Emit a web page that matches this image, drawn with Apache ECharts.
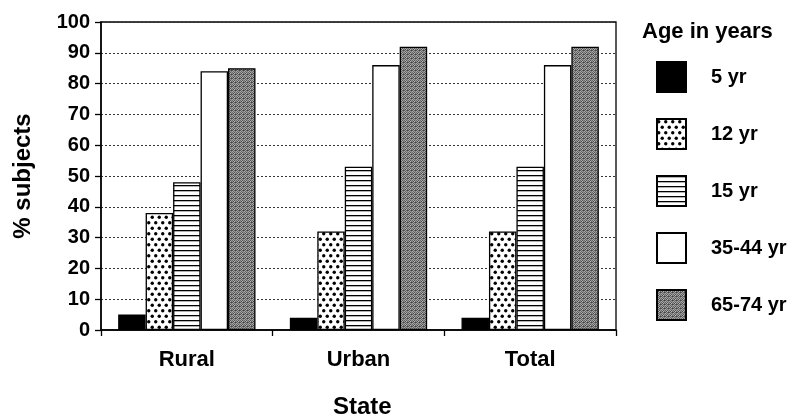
<!DOCTYPE html>
<html><head><meta charset="utf-8">
<script src="https://cdn.jsdelivr.net/npm/echarts@6/dist/echarts.min.js"></script>
<style>html,body{margin:0;padding:0;background:#fff}#c{width:794px;height:419px}</style>
</head><body><div id="c"></div>
<script>
const categories = ['Rural', 'Urban', 'Total'];
const seriesNames = ['5 yr', '12 yr', '15 yr', '35-44 yr', '65-74 yr'];
const age5 = [5, 4, 4];
const age12 = [38, 32, 32];
const age15 = [48, 53, 53];
const age3544 = [84, 86, 86];
const age6574 = [85, 92, 92];
const yTicks = [0, 10, 20, 30, 40, 50, 60, 70, 80, 90, 100];

function tile(w, h, draw) {
  const c = document.createElement('canvas');
  c.width = w; c.height = h;
  const g = c.getContext('2d');
  draw(g);
  return { image: c, repeat: 'repeat' };
}
const dots = tile(7, 11, g => {
  g.fillStyle = '#fff'; g.fillRect(0, 0, 7, 11);
  g.fillStyle = '#000';
  g.beginPath(); g.arc(1.75, 2.75, 1.7, 0, Math.PI * 2); g.fill();
  g.beginPath(); g.arc(5.25, 8.25, 1.7, 0, Math.PI * 2); g.fill();
});
const stripes = tile(4, 5, g => {
  g.fillStyle = '#fff'; g.fillRect(0, 0, 4, 5);
  g.fillStyle = '#000'; g.fillRect(0, 0, 4, 1.3);
});
const dark = tile(4, 4, g => {
  const px = ['#666','#aaa','#555','#999','#999','#444','#bbb','#666','#555','#a0a0a0','#666','#444','#aaa','#666','#999','#777'];
  for (let i = 0; i < 16; i++) { g.fillStyle = px[i]; g.fillRect(i % 4, Math.floor(i / 4), 1, 1); }
});
const fills = ['#000', dots, stripes, '#fff', dark];
const dataSets = [age5, age12, age15, age3544, age6574];

const font = '"Liberation Sans", Arial, sans-serif';
const chart = echarts.init(document.getElementById('c'), null, { renderer: 'canvas' });
chart.setOption({
  animation: false,
  backgroundColor: '#fff',
  grid: { left: 101, right: 178, top: 22, bottom: 89, show: true, borderColor: '#000', borderWidth: 1.3 },
  xAxis: {
    type: 'category', data: categories,
    axisLine: { lineStyle: { color: '#000', width: 1.5 } },
    axisTick: { show: true, length: 6, lineStyle: { color: '#000', width: 1.3 } },
    axisLabel: { color: '#000', fontFamily: font, fontWeight: 'bold', fontSize: 22, margin: 19 }
  },
  yAxis: {
    type: 'value', min: 0, max: 100, interval: 10,
    axisLine: { show: true, lineStyle: { color: '#000', width: 1.5 } },
    axisTick: { show: true, length: 6, lineStyle: { color: '#000', width: 1.3 } },
    axisLabel: { color: '#000', fontFamily: font, fontWeight: 'bold', fontSize: 20, margin: 11,
      formatter: v => yTicks.indexOf(v) >= 0 ? String(v) : '' },
    splitLine: { show: true, lineStyle: { color: '#333', width: 1, type: [2, 2] } },
    name: '% subjects', nameLocation: 'middle', nameGap: 66, nameRotate: 90,
    nameTextStyle: { color: '#000', fontFamily: font, fontWeight: 'bold', fontSize: 24 }
  },
  legend: {
    orient: 'vertical', left: 651, top: 56,
    itemWidth: 29, itemHeight: 30, itemGap: 25,
    icon: 'rect',
    data: seriesNames,
    textStyle: { color: '#000', fontFamily: font, fontWeight: 'bold', fontSize: 20, padding: [0, 0, 0, 20] }
  },
  graphic: [
    { type: 'text', left: 642, top: 21, style: { text: 'Age in years', fill: '#000', font: 'bold 22px ' + font } },
    { type: 'text', left: 333, top: 395, style: { text: 'State', fill: '#000', font: 'bold 24px ' + font } }
  ],
  series: seriesNames.map((n, i) => ({
    name: n, type: 'bar', data: dataSets[i],
    barGap: '0%', barCategoryGap: '20%',
    itemStyle: { color: fills[i], borderColor: '#000', borderWidth: 1.3 }
  }))
});
</script></body></html>
